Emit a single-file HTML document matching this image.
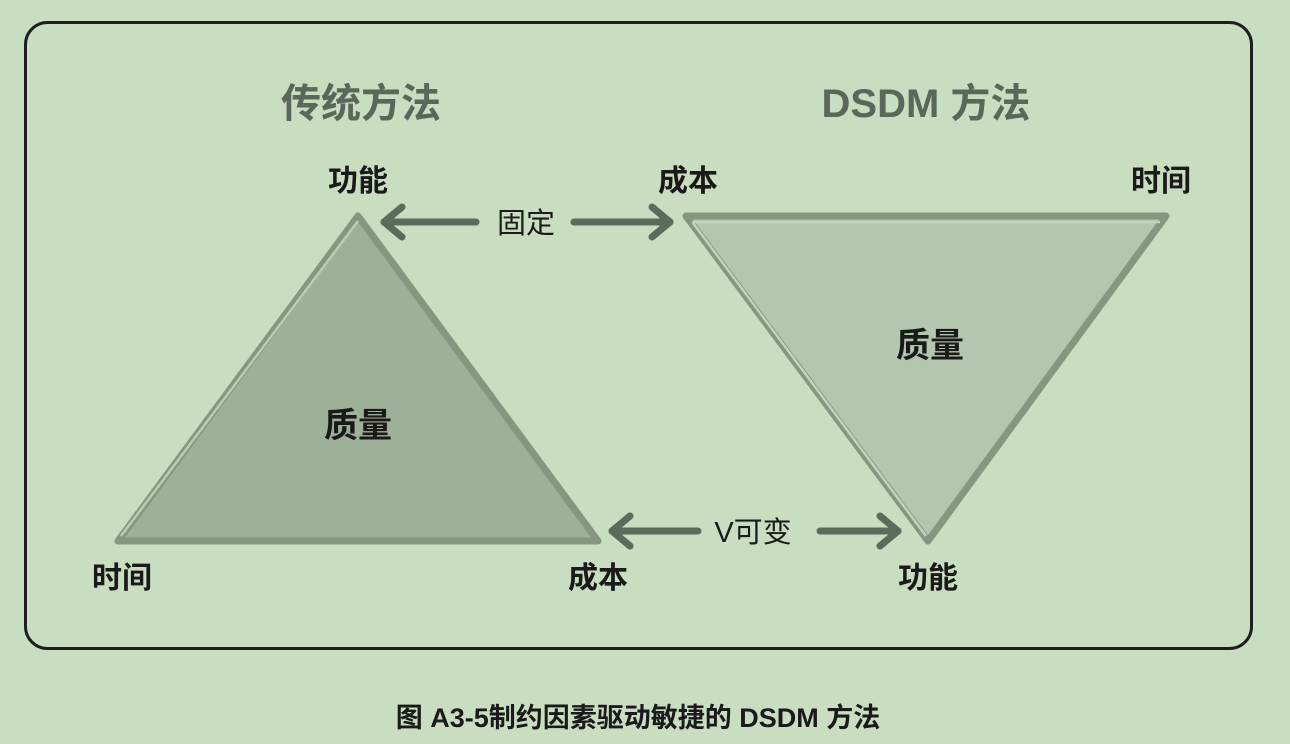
<!DOCTYPE html>
<html><head><meta charset="utf-8"><style>
html,body{margin:0;padding:0;background:#c9ddc0;}
svg{display:block;}
text{font-family:"Liberation Sans","Noto Sans CJK SC",sans-serif;}
</style></head><body>
<svg width="1290" height="744" viewBox="0 0 1290 744" xmlns="http://www.w3.org/2000/svg">
<rect width="1290" height="744" fill="#c9ddc0"/>
<rect x="25.5" y="22.5" width="1226" height="626" rx="22" fill="none" stroke="#1e1e1e" stroke-width="3"/>
<text x="361" y="117" font-size="40" font-weight="bold" fill="#5b6759" text-anchor="middle">传统方法</text>
<text x="926" y="117" font-size="40" font-weight="bold" fill="#5b6759" text-anchor="middle">DSDM 方法</text>
<polygon points="358,216 118,541 598,541" fill="#9db098" stroke="#87977f" stroke-width="7" stroke-linejoin="round"/>
<polyline points="121,536 358,221" fill="none" stroke="#b8cdb2" stroke-width="2.5"/>
<polygon points="686,216 1166,216 928,541" fill="#b2c7ae" stroke="#87977f" stroke-width="7" stroke-linejoin="round"/>
<polyline points="692,222 1160,222" fill="none" stroke="#bfd4bb" stroke-width="2.5"/>
<polyline points="693,223 926,536" fill="none" stroke="#bfd4bb" stroke-width="2.5"/>
<g font-size="30" font-weight="bold" fill="#1a1a1a" text-anchor="middle">
<text x="358" y="191">功能</text>
<text x="122" y="588">时间</text>
<text x="598" y="588">成本</text>
<text x="688" y="191">成本</text>
<text x="1161" y="191">时间</text>
<text x="928" y="588">功能</text>
</g>
<g font-size="34" font-weight="bold" fill="#1a1a1a" text-anchor="middle">
<text x="358" y="437">质量</text>
<text x="930" y="357">质量</text>
</g>
<g stroke="#5d6b5c" stroke-width="7" stroke-linecap="round" stroke-linejoin="round" fill="none">
<line x1="476" y1="222" x2="384" y2="222"/><polyline points="402,207 384,222 402,237"/>
<line x1="574" y1="222" x2="670" y2="222"/><polyline points="652,207 670,222 652,237"/>
<line x1="698" y1="531" x2="612" y2="531"/><polyline points="630,516 612,531 630,546"/>
<line x1="820" y1="531" x2="898" y2="531"/><polyline points="880,516 898,531 880,546"/>
</g>
<text x="526" y="233" font-size="29" fill="#1a1a1a" text-anchor="middle">固定</text>
<text x="753" y="542" font-size="29" fill="#1a1a1a" text-anchor="middle">V可变</text>
<text x="638" y="727" font-size="27" font-weight="bold" fill="#1a1a1a" text-anchor="middle">图 A3-5制约因素驱动敏捷的 DSDM 方法</text>
</svg>
</body></html>
